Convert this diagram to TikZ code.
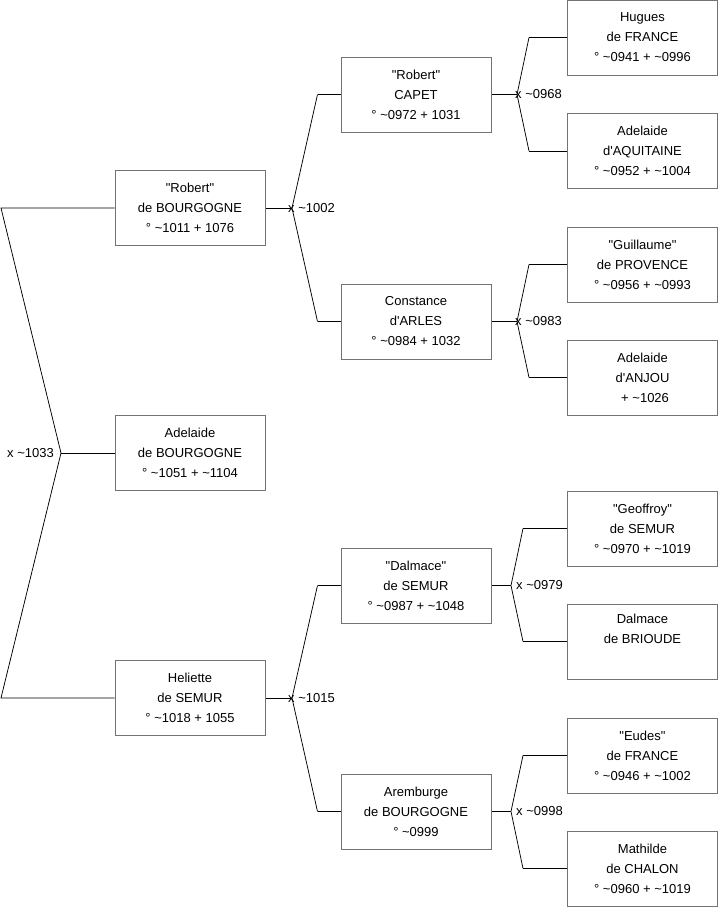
\documentclass[tikz,border=0pt]{standalone}
\usepackage{fontspec}
\setmainfont{Liberation Sans}
\usetikzlibrary{positioning,calc}

\newcommand{\abt}{\textasciitilde}
\newcommand{\apo}{\textquotesingle}
\newcommand{\qd}{\textquotedbl}

\begin{document}
\begin{tikzpicture}[
    x=1pt, y=-1pt,
    person/.style={rectangle, draw=black!55, line width=1pt, minimum width=150pt, minimum height=75pt, inner sep=0pt, align=center, font=\fontsize{13}{20}\selectfont},
    link/.style={draw, line width=0.75pt},
    wed/.style={inner sep=0pt, font=\fontsize{13}{16}\selectfont}
]
    \useasboundingbox (0,0) rectangle (719,908);

    % --- Generation 1 ---
    \node [person] (rob) at (190,208) {\qd Robert\qd\\de BOURGOGNE\\° \abt1011 + 1076};
    \node [person] (ade) at (190,453) {Adelaide\\de BOURGOGNE\\° \abt1051 + \abt1104};
    \node [person] (hel) at (190,698) {Heliette\\de SEMUR\\° \abt1018 + 1055};

    % --- Generation 2 ---
    \node [person] (cap) at (416,94.5) {\qd Robert\qd\\CAPET\\° \abt0972 + 1031};
    \node [person] (con) at (416,321.5) {Constance\\d\apo ARLES\\° \abt0984 + 1032};
    \node [person] (dal) at (416,585.5) {\qd Dalmace\qd\\de SEMUR\\° \abt0987 + \abt1048};
    \node [person] (are) at (416,811.5) {Aremburge\\de BOURGOGNE\\° \abt0999};

    % --- Generation 3 ---
    \node [person] (hug) at (642.5,37.5) {Hugues\\de FRANCE\\° \abt0941 + \abt0996};
    \node [person] (aqu) at (642.5,151) {Adelaide\\d\apo AQUITAINE\\° \abt0952 + \abt1004};
    \node [person] (gui) at (642.5,264.5) {\qd Guillaume\qd\\de PROVENCE\\° \abt0956 + \abt0993};
    \node [person] (anj) at (642.5,377.5) {Adelaide\\d\apo ANJOU\\\hspace{0.4em}+ \abt1026};
    \node [person] (geo) at (642.5,528.5) {\qd Geoffroy\qd\\de SEMUR\\° \abt0970 + \abt1019};
    \node [person] (bri) at (642.5,641.5) {Dalmace\\de BRIOUDE\\\strut};
    \node [person] (eud) at (642.5,755.5) {\qd Eudes\qd\\de FRANCE\\° \abt0946 + \abt1002};
    \node [person] (mat) at (642.5,868.5) {Mathilde\\de CHALON\\° \abt0960 + \abt1019};

    % Junctions
    \coordinate (j0) at (61,453);
    \coordinate (k1) at (1,208);
    \coordinate (k2) at (1,698);
    \coordinate (j1) at (292,208);
    \coordinate (j2) at (292,698);
    \coordinate (j3) at (517,94.5);
    \coordinate (j4) at (517,321.5);
    \coordinate (j5) at (511,585.5);
    \coordinate (j6) at (511,811.5);

    % Paths
    \path [link] (rob.west) -- (k1) -- (j0) -- (k2) -- (hel.west);
    \path [link] (j0) -- (ade.west);

    \path [link] (rob.east) -- (j1);
    \path [link] ([xshift=-23pt]cap.west) -- (j1) -- ([xshift=-23pt]con.west);
    \path [link] ([xshift=-23pt]cap.west) -- (cap.west);
    \path [link] ([xshift=-23pt]con.west) -- (con.west);

    \path [link] (hel.east) -- (j2);
    \path [link] ([xshift=-23pt]dal.west) -- (j2) -- ([xshift=-23pt]are.west);
    \path [link] ([xshift=-23pt]dal.west) -- (dal.west);
    \path [link] ([xshift=-23pt]are.west) -- (are.west);

    \path [link] (cap.east) -- (j3);
    \path [link] ([xshift=-38pt]hug.west) -- (j3) -- ([xshift=-38pt]aqu.west);
    \path [link] ([xshift=-38pt]hug.west) -- (hug.west);
    \path [link] ([xshift=-38pt]aqu.west) -- (aqu.west);

    \path [link] (con.east) -- (j4);
    \path [link] ([xshift=-38pt]gui.west) -- (j4) -- ([xshift=-38pt]anj.west);
    \path [link] ([xshift=-38pt]gui.west) -- (gui.west);
    \path [link] ([xshift=-38pt]anj.west) -- (anj.west);

    \path [link] (dal.east) -- (j5);
    \path [link] ([xshift=-44pt]geo.west) -- (j5) -- ([xshift=-44pt]bri.west);
    \path [link] ([xshift=-44pt]geo.west) -- (geo.west);
    \path [link] ([xshift=-44pt]bri.west) -- (bri.west);

    \path [link] (are.east) -- (j6);
    \path [link] ([xshift=-44pt]eud.west) -- (j6) -- ([xshift=-44pt]mat.west);
    \path [link] ([xshift=-44pt]eud.west) -- (eud.west);
    \path [link] ([xshift=-44pt]mat.west) -- (mat.west);

    % Marriage labels
    \node [wed, anchor=east] (m0) at ([xshift=-7pt]j0) {x \abt1033};
    \node [wed, anchor=west] (m1) at ([xshift=-4pt]j1) {x \abt1002};
    \node [wed, anchor=west] (m2) at ([xshift=-4pt]j2) {x \abt1015};
    \node [wed, anchor=west] (m3) at ([xshift=-2pt]j3) {x \abt0968};
    \node [wed, anchor=west] (m4) at ([xshift=-2pt]j4) {x \abt0983};
    \node [wed, anchor=west] (m5) at ([xshift=5pt]j5) {x \abt0979};
    \node [wed, anchor=west] (m6) at ([xshift=5pt]j6) {x \abt0998};

\end{tikzpicture}
\end{document}
